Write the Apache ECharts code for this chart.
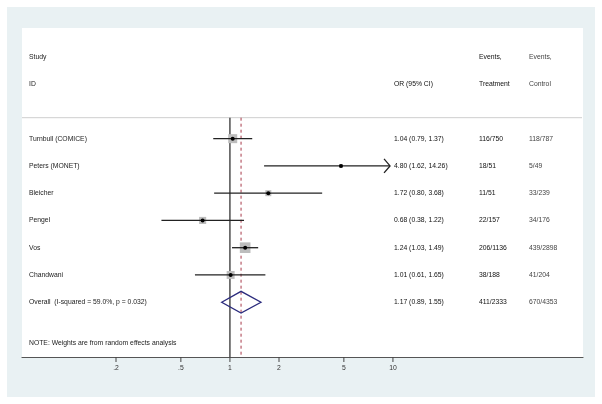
<!DOCTYPE html>
<html lang="en">
<head>
<meta charset="UTF-8">
<title>Forest plot</title>
<script src="https://cdn.jsdelivr.net/npm/echarts@6/dist/echarts.min.js"></script>
<style>
	body { margin: 0; background: #fff; }
	.frame { position: absolute; left: 7px; top: 7px; width: 588px; height: 390px; background: #e9f1f3; }
	#chart { position: absolute; left: 0; top: 0; width: 602px; height: 404px; }
</style>
</head>
<body>
<div class="frame"></div>
<div id="chart"></div>
<script>
// data
var studies = ['Turnbull (COMICE)', 'Peters (MONET)', 'Bleicher', 'Pengel', 'Vos', 'Chandwani'];
var orVals = [1.04, 4.80, 1.72, 0.68, 1.24, 1.01];
var ciLow = [0.79, 1.62, 0.80, 0.38, 1.03, 0.61];
var ciHigh = [1.37, 14.26, 3.68, 1.22, 1.49, 1.65];
var weights = [22.5, 4.0, 10.0, 14.0, 31.5, 17.5];
var eventsTreat = ['116/750', '18/51', '11/51', '22/157', '206/1136', '38/188'];
var eventsCtrl = ['118/787', '5/49', '33/239', '34/176', '439/2898', '41/204'];

var overallLabel = 'Overall  (I-squared = 59.0%, p = 0.032)';
var overallOR = [1.17];
var overallCI = [0.89, 1.55];
var overallEvents = ['411/2333', '670/4353'];
var noteText = 'NOTE: Weights are from random effects analysis';

var tickValues = [0.2, 0.5, 1, 2, 5, 10];
var tickLabels = ['.2', '.5', '1', '2', '5', '10'];

// layout
var xMin = 0.053, xMax = 146.6;   // log axis ends (grid edges)
var yMin = -4.06, yMax = 8.01;    // rows, 0 = first study
var xClip = 9.6;                  // right end of the drawn CI area
var sepRow = -0.77;
var overallRow = studies.length;
var noteRow = 7.5;
var colX = { label: 29, or: 394, treat: 479, ctrl: 529 };
var FONT = '"Liberation Sans", Arial, sans-serif';
var FS = 6.8;

function fmt(v) { return v.toFixed(2); }

// text table rows: [row, column, text, color]
var textRows = [
	[-3, 'label', 'Study', '#222'],
	[-2, 'label', 'ID', '#222'],
	[-2, 'or', 'OR (95% CI)', '#111'],
	[-3, 'treat', 'Events,', '#111'],
	[-2, 'treat', 'Treatment', '#111'],
	[-3, 'ctrl', 'Events,', '#444'],
	[-2, 'ctrl', 'Control', '#444']
];
studies.forEach(function (s, i) {
	textRows.push([i, 'label', s, '#222']);
	textRows.push([i, 'or', fmt(orVals[i]) + ' (' + fmt(ciLow[i]) + ', ' + fmt(ciHigh[i]) + ')', '#111']);
	textRows.push([i, 'treat', eventsTreat[i], '#111']);
	textRows.push([i, 'ctrl', eventsCtrl[i], '#444']);
});
textRows.push([overallRow, 'label', overallLabel, '#222']);
textRows.push([overallRow, 'or', fmt(overallOR[0]) + ' (' + fmt(overallCI[0]) + ', ' + fmt(overallCI[1]) + ')', '#111']);
textRows.push([overallRow, 'treat', overallEvents[0], '#111']);
textRows.push([overallRow, 'ctrl', overallEvents[1], '#444']);
textRows.push([noteRow, 'label', noteText, '#222']);

function txt(x, y, s, color, align) {
	return {
		type: 'text',
		style: {
			x: x, y: y, text: s, fill: color,
			fontFamily: FONT, fontSize: FS,
			align: align || 'left', verticalAlign: 'middle',
			textAlign: align || 'left', textVerticalAlign: 'middle'
		}
	};
}

function renderStudy(params, api) {
	var or = api.value(0), row = api.value(1), lo = api.value(2), hi = api.value(3), w = api.value(4);
	var c = api.coord([or, row]);
	var side = 1.9 * Math.sqrt(w);
	var end = api.coord([Math.min(hi, xClip), row]);
	var start = api.coord([lo, row]);
	var children = [
		{ type: 'rect', shape: { x: c[0] - side / 2, y: c[1] - side / 2, width: side, height: side }, style: { fill: '#bdbdbd' } },
		{ type: 'line', shape: { x1: start[0], y1: c[1], x2: end[0], y2: c[1] }, style: { stroke: '#222', lineWidth: 1.3 } }
	];
	if (hi > xClip) {
		children.push({ type: 'polyline', shape: { points: [[end[0] - 6, c[1] - 7], [end[0], c[1]], [end[0] - 6, c[1] + 7]] },
			style: { stroke: '#222', lineWidth: 1.3, fill: null } });
	}
	children.push({ type: 'circle', shape: { cx: c[0], cy: c[1], r: 2 }, style: { fill: '#000' } });
	return { type: 'group', children: children };
}

function renderDiamond(params, api) {
	var row = api.value(1);
	var l = api.coord([api.value(2), row]);
	var r = api.coord([api.value(3), row]);
	var t = api.coord([api.value(0), row - 0.4]);
	var b = api.coord([api.value(0), row + 0.4]);
	return {
		type: 'polygon',
		shape: { points: [l, t, r, b] },
		style: { stroke: '#2b2b7d', lineWidth: 1.3, fill: null }
	};
}

function renderRefLine(params, api) {
	var v = api.value(0);
	var a = api.coord([v, sepRow]);
	var b = api.coord([v, yMax]);
	var dashed = params.dataIndex === 1;
	return {
		type: 'line',
		shape: { x1: a[0], y1: a[1], x2: b[0], y2: b[1] },
		style: dashed ? { stroke: '#a83a4a', lineWidth: 1, lineDash: [3, 3] } : { stroke: '#222', lineWidth: 1.2 }
	};
}

function renderSep(params, api) {
	var a = api.coord([xMin, sepRow]);
	var b = api.coord([xMax, sepRow]);
	return { type: 'line', shape: { x1: a[0], y1: a[1], x2: b[0] - 1, y2: b[1] }, style: { stroke: '#cfcfcf', lineWidth: 1 } };
}

function renderTick(params, api) {
	var p = api.coord([api.value(0), yMax]);
	return {
		type: 'group',
		children: [
			{ type: 'line', shape: { x1: p[0], y1: p[1], x2: p[0], y2: p[1] + 5 }, style: { stroke: '#444', lineWidth: 1 } },
			txt(p[0], p[1] + 11, tickLabels[params.dataIndex], '#333', 'center')
		]
	};
}

function renderText(params, api) {
	var t = textRows[params.dataIndex];
	var y = api.coord([1, t[0]])[1];
	return txt(colX[t[1]], y, t[2], t[3], 'left');
}

var chart = echarts.init(document.getElementById('chart'));
chart.setOption({
	animation: false,
	grid: { left: 22, right: 19, top: 28, bottom: 47, show: true, backgroundColor: '#fff', borderWidth: 0 },
	xAxis: {
		type: 'log', logBase: 10, min: xMin, max: xMax,
		axisLine: { show: true, onZero: false, lineStyle: { color: '#555', width: 1.2 } },
		axisTick: { show: false }, axisLabel: { show: false }, splitLine: { show: false }
	},
	yAxis: { type: 'value', inverse: true, min: yMin, max: yMax, show: false, splitLine: { show: false } },
	series: [
		{ type: 'custom', name: 'sep', renderItem: renderSep, data: [[1, sepRow]], encode: { x: 0, y: 1 }, silent: true, z: 1 },
		{ type: 'custom', name: 'ref', renderItem: renderRefLine, data: [[1, 0], [overallOR[0], 0]], encode: { x: 0, y: 1 }, silent: true, z: 2 },
		{
			type: 'custom', name: 'studies', renderItem: renderStudy, z: 3,
			data: studies.map(function (s, i) { return [orVals[i], i, ciLow[i], ciHigh[i], weights[i]]; }),
			encode: { x: 0, y: 1 }
		},
		{ type: 'custom', name: 'overall', renderItem: renderDiamond, z: 3,
			data: [[overallOR[0], overallRow, overallCI[0], overallCI[1]]], encode: { x: 0, y: 1 } },
		{ type: 'custom', name: 'ticks', renderItem: renderTick, z: 3,
			data: tickValues.map(function (v) { return [v, yMax]; }), encode: { x: 0, y: 1 } },
		{ type: 'custom', name: 'text', renderItem: renderText, z: 4,
			data: textRows.map(function (t) { return [1, t[0]]; }), encode: { x: 0, y: 1 } }
	]
});
</script>
</body>
</html>
